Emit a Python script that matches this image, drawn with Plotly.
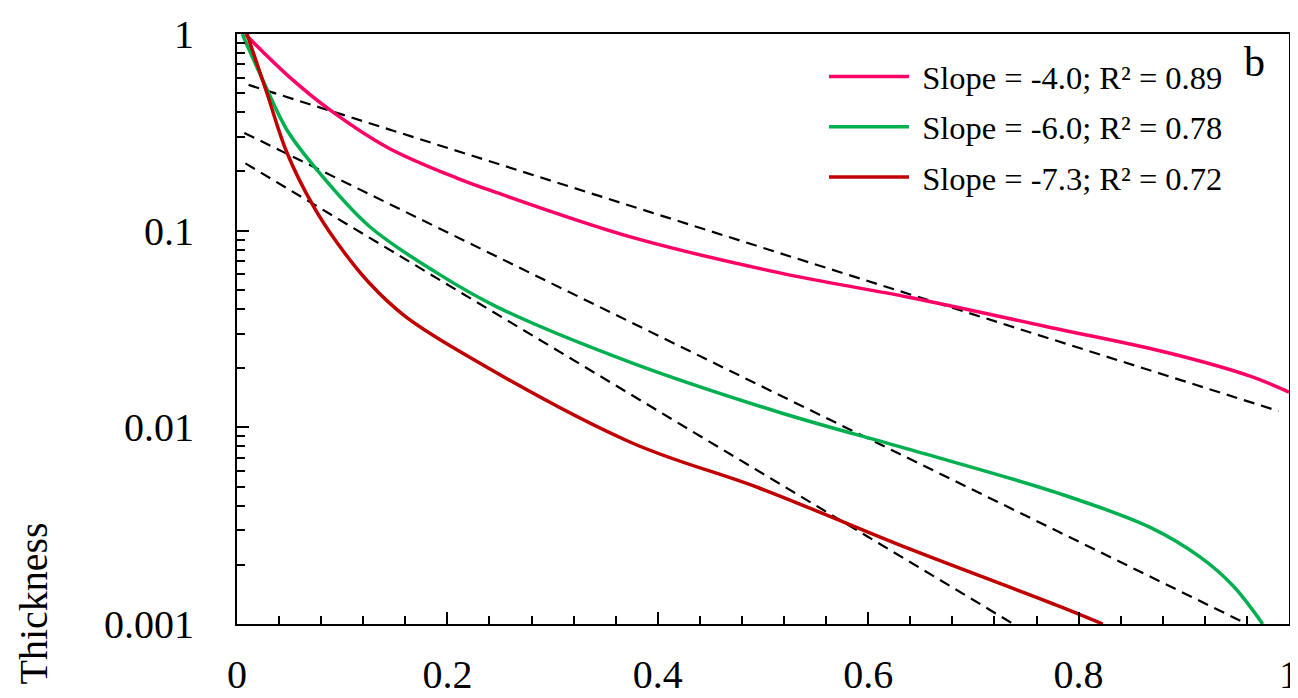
import plotly.graph_objects as go

# ---- data ----
pink_x = [0.0076, 0.0475, 0.0886, 0.143, 0.209, 0.247, 0.374, 0.516, 0.64, 0.773, 0.884, 0.963, 1.0]
pink_y = [1.0, 0.62, 0.41, 0.265, 0.185, 0.156, 0.093, 0.061, 0.0457, 0.0322, 0.024, 0.0182, 0.0151]

green_x = [0.005, 0.026, 0.0475, 0.076, 0.126, 0.19, 0.247, 0.374, 0.516, 0.64, 0.782, 0.868, 0.915, 0.947, 0.975]
green_y = [1.0, 0.56, 0.325, 0.204, 0.105, 0.061, 0.041, 0.0214, 0.0119, 0.0077, 0.0046, 0.0031, 0.0022, 0.00156, 0.001]

red_x = [0.0095, 0.0285, 0.0475, 0.073, 0.095, 0.126, 0.159, 0.209, 0.374, 0.497, 0.64, 0.782, 0.823]
red_y = [1.0, 0.50, 0.249, 0.132, 0.087, 0.054, 0.037, 0.0248, 0.0084, 0.0049, 0.0024, 0.00123, 0.001]

pink_fit_x = [0.011, 0.99]
pink_fit_y = [0.551, 0.0121]
green_fit_x = [0.007, 0.96]
green_fit_y = [0.314, 0.001]
red_fit_x = [0.008, 0.738]
red_fit_y = [0.22, 0.001]

labels = ["Slope = -4.0; R² = 0.89", "Slope = -6.0; R² = 0.78", "Slope = -7.3; R² = 0.72"]
colors = ["#FF0066", "#00B050", "#C00000"]

y_tickvals = [0.001, 0.01, 0.1, 1]
y_ticktext = ["0.001", "0.01", "0.1", "1"]
x_tickvals = [0, 0.2, 0.4, 0.6, 0.8, 1]
x_ticktext = ["0", "0.2", "0.4", "0.6", "0.8", "1"]

FONT = "Liberation Serif"

fig = go.Figure()

for fx, fy in [(pink_fit_x, pink_fit_y), (green_fit_x, green_fit_y), (red_fit_x, red_fit_y)]:
    fig.add_trace(go.Scatter(x=fx, y=fy, mode="lines", showlegend=False,
                             line=dict(color="black", width=2.2, dash="11px,7px"),
                             hoverinfo="skip"))

for i, (cx, cy) in enumerate([(pink_x, pink_y), (green_x, green_y), (red_x, red_y)]):
    fig.add_trace(go.Scatter(x=cx, y=cy, mode="lines", name="\u00a0" + labels[i],
                             legendgroup=f"g{i}",
                             line=dict(color=colors[i], width=3.5, shape="spline", smoothing=1.0)))

# the page body has an 8px margin, so the figure is sized/offset to land the
# plot area where the reference has it
fig.update_layout(
    width=1290, height=690,
    margin=dict(l=229, r=9, t=26, b=74),
    paper_bgcolor="white", plot_bgcolor="white",
    font=dict(family=FONT, color="black"),
    showlegend=True,
    legend=dict(x=0.558, y=0.975, xanchor="left", yanchor="top",
                bgcolor="rgba(0,0,0,0)", font=dict(size=32.5, family=FONT),
                itemwidth=80, tracegroupgap=5),
    xaxis=dict(range=[0, 1], showgrid=False, zeroline=False, automargin=False,
               showline=True, linecolor="black", linewidth=2, mirror=True,
               tickmode="array", tickvals=x_tickvals, ticktext=x_ticktext,
               ticks="inside", ticklen=12, tickwidth=1.5, tickcolor="black",
               tickfont=dict(size=40, family=FONT), ticklabelstandoff=14,
               ticklabeloverflow="allow",
               minor=dict(dtick=0.04, ticks="inside", ticklen=8, tickwidth=1.5, tickcolor="black")),
    yaxis=dict(type="log", range=[-3, 0], showgrid=False, zeroline=False, automargin=False,
               showline=True, linecolor="black", linewidth=2, mirror=True,
               tickmode="array", tickvals=y_tickvals, ticktext=y_ticktext,
               ticks="inside", ticklen=12, tickwidth=1.5, tickcolor="black",
               tickfont=dict(size=40, family=FONT), ticklabelstandoff=33,
               ticklabeloverflow="allow",
               minor=dict(dtick="D1", ticks="inside", ticklen=8, tickwidth=1.5, tickcolor="black")),
    annotations=[
        dict(text="Thickness", xref="paper", yref="paper", x=-0.193, y=-0.106,
             xanchor="center", yanchor="bottom", textangle=-90, showarrow=False,
             font=dict(size=40, family=FONT)),
        dict(text="b", xref="paper", yref="paper", x=0.967, y=0.995,
             xanchor="center", yanchor="top", showarrow=False,
             font=dict(size=42, family=FONT)),
    ],
)

fig.write_html("out.html")
